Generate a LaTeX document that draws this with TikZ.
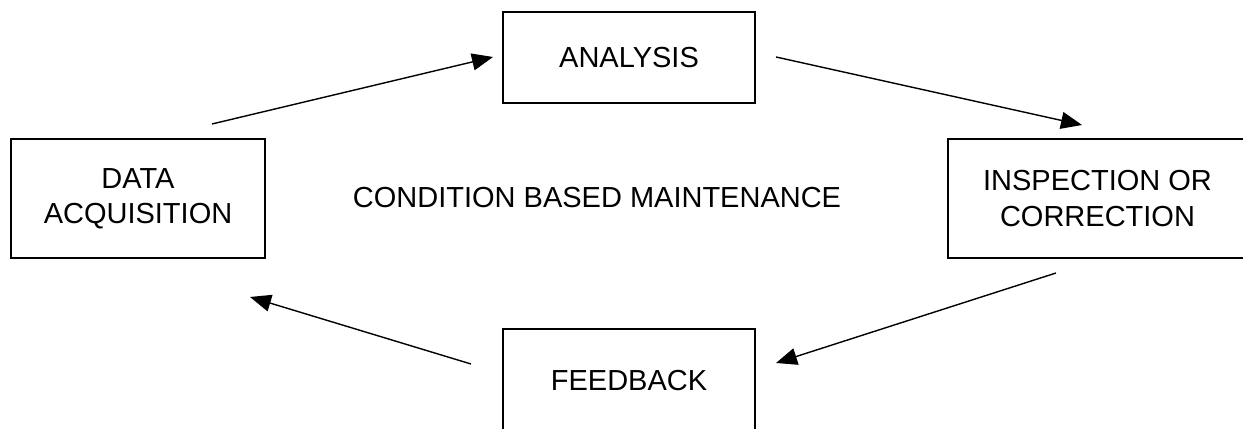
\documentclass[tikz,border=0pt]{standalone}
\usepackage{fontspec}
\setmainfont{Liberation Sans}
\usepackage{tikz}
\usetikzlibrary{arrows.meta}
\tikzset{
  stagebox/.style={draw=black,line width=1.1pt,fill=none,
    font=\fontsize{16.5}{20}\selectfont,align=center,inner sep=0pt},
  titletext/.style={font=\fontsize{16.5}{20}\selectfont,inner sep=0pt},
  cyclearrow/.style={line width=0.8pt,draw=black,
    -{Triangle[length=4.2mm,width=3.4mm]}},
}

\begin{document}
\begin{tikzpicture}
  \clip (0,0) rectangle (24.86,8.58);
  \node[stagebox,minimum width=5.04cm,minimum height=1.82cm] (ana) at (12.58,7.43) {ANALYSIS};
  \node[stagebox,minimum width=5.08cm,minimum height=2.38cm] (daq) at (2.76,4.61) {DATA\\ACQUISITION};
  \node[stagebox,minimum width=5.98cm,minimum height=2.38cm] (insp) at (21.95,4.61) {INSPECTION OR\\CORRECTION};
  \node[stagebox,minimum width=5.04cm,minimum height=2.06cm] (fb) at (12.58,0.97) {FEEDBACK};
  \node[titletext] (cbm) at (11.94,4.62) {CONDITION BASED MAINTENANCE};
  \coordinate (daq-out) at (4.24,6.10);
  \coordinate (ana-in) at (9.86,7.44);
  \coordinate (ana-out) at (15.52,7.44);
  \coordinate (insp-in) at (21.64,6.08);
  \coordinate (insp-out) at (21.12,3.12);
  \coordinate (fb-in) at (15.52,1.32);
  \coordinate (fb-out) at (9.42,1.30);
  \coordinate (daq-in) at (5.00,2.64);
  \draw[cyclearrow] (daq-out) -- (ana-in);
  \draw[cyclearrow] (ana-out) -- (insp-in);
  \draw[cyclearrow] (insp-out) -- (fb-in);
  \draw[cyclearrow] (fb-out) -- (daq-in);
\end{tikzpicture}
\end{document}
